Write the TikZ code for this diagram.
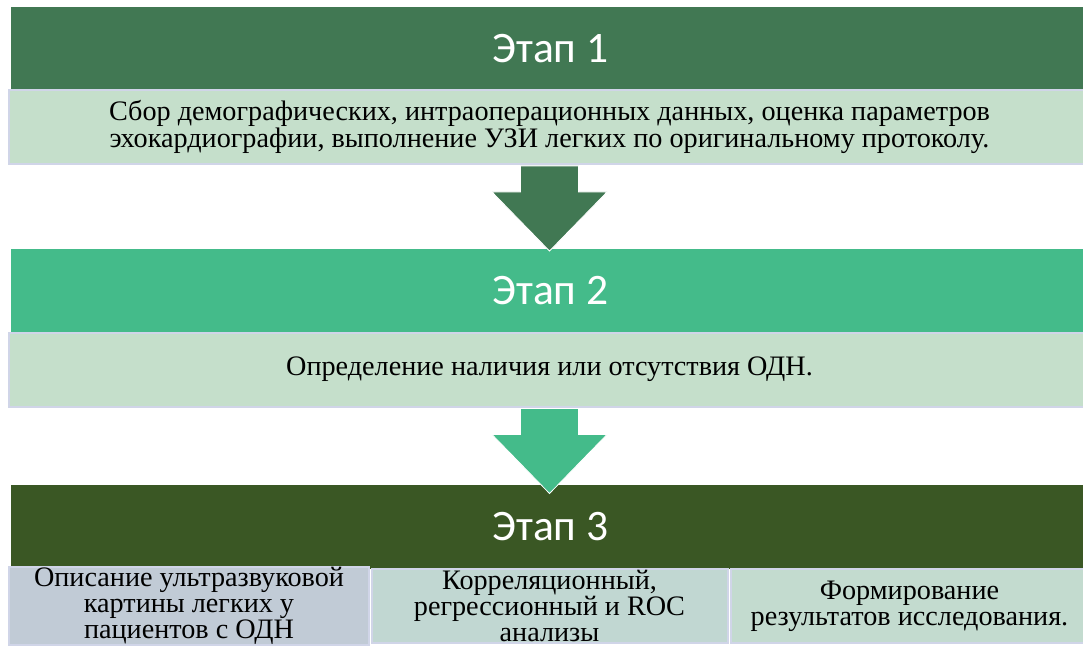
\documentclass[tikz,border=0pt]{standalone}
\usepackage{fontspec}
\setmainfont{Liberation Serif}
\newfontfamily\stagefont{Carlito}
\usetikzlibrary{calc}
\definecolor{stageone}{RGB}{65,120,83}
\definecolor{stagetwo}{RGB}{68,187,138}
\definecolor{stagethree}{RGB}{58,87,36}
\definecolor{detailfill}{RGB}{197,223,203}
\definecolor{edgeblue}{RGB}{208,213,232}
\definecolor{subone}{RGB}{193,203,214}
\definecolor{subtwo}{RGB}{193,215,210}
\definecolor{subthree}{RGB}{195,219,207}
\tikzset{stage/.style = {inner sep = 0, minimum width = 1079pt, minimum height = 83pt,
                         text = white, font = \stagefont\fontsize{43.5}{46}\selectfont}}
\tikzset{detail/.style = {draw = edgeblue, line width = 2pt, fill = detailfill, inner sep = 0,
                          minimum width = 1081pt, minimum height = 74pt, align = center,
                          font = \fontsize{28.2}{27}\selectfont}}
\tikzset{subbox/.style = {draw = edgeblue, line width = 2pt, inner sep = 0,
                          minimum height = 74pt, align = center,
                          font = \fontsize{28.2}{26}\selectfont}}
\tikzset{blockarrow/.style = {draw = white, line width = 0.8pt}}
% block arrow hanging below a node
\newcommand{\stagearrow}[2]{%
  \filldraw [blockarrow, fill = #2] let \p1 = (#1.south) in
    (\x1-29pt, \y1-1pt) -- (\x1+29pt, \y1-1pt) -- (\x1+29pt, \y1-27pt) --
    (\x1+57.5pt, \y1-27pt) -- (\x1, \y1-86pt) -- (\x1-57.5pt, \y1-27pt) --
    (\x1-29pt, \y1-27pt) -- cycle;
}

\begin{document}
\begin{tikzpicture}[x = 1pt, y = 1pt]
      \useasboundingbox (0, 0) rectangle (1083, 646);

      \node [stage, fill = stageone] (head1) at (550.5, 597.5) {Этап 1};
      \node [detail] (det1) at (549.5, 519)
        {Сбор демографических, интраоперационных данных, оценка параметров\\
         эхокардиографии, выполнение УЗИ легких по оригинальному протоколу.};

      \node [stage, fill = stagetwo] (head2) at (550.5, 355.5) {Этап 2};
      \node [detail] (det2) at (549.5, 276.5) {Определение наличия или отсутствия ОДН.};

      \node [stage, fill = stagethree, minimum height = 84pt] (head3) at (550.5, 119) {Этап 3};
      \node [subbox, fill = subone, minimum width = 360pt] (sub1) at (189, 40)
        {Описание ультразвуковой\\ картины легких у\\ пациентов с ОДН};
      \node [subbox, fill = subtwo, minimum width = 356pt] (sub2) at (549.5, 40)
        {Корреляционный,\\ регрессионный и ROC\\ анализы};
      \node [subbox, fill = subthree, minimum width = 357pt] (sub3) at (909.5, 40)
        {Формирование\\ результатов исследования.};

      \stagearrow{det1}{stageone}
      \stagearrow{det2}{stagetwo}

    \end{tikzpicture}
\end{document}
